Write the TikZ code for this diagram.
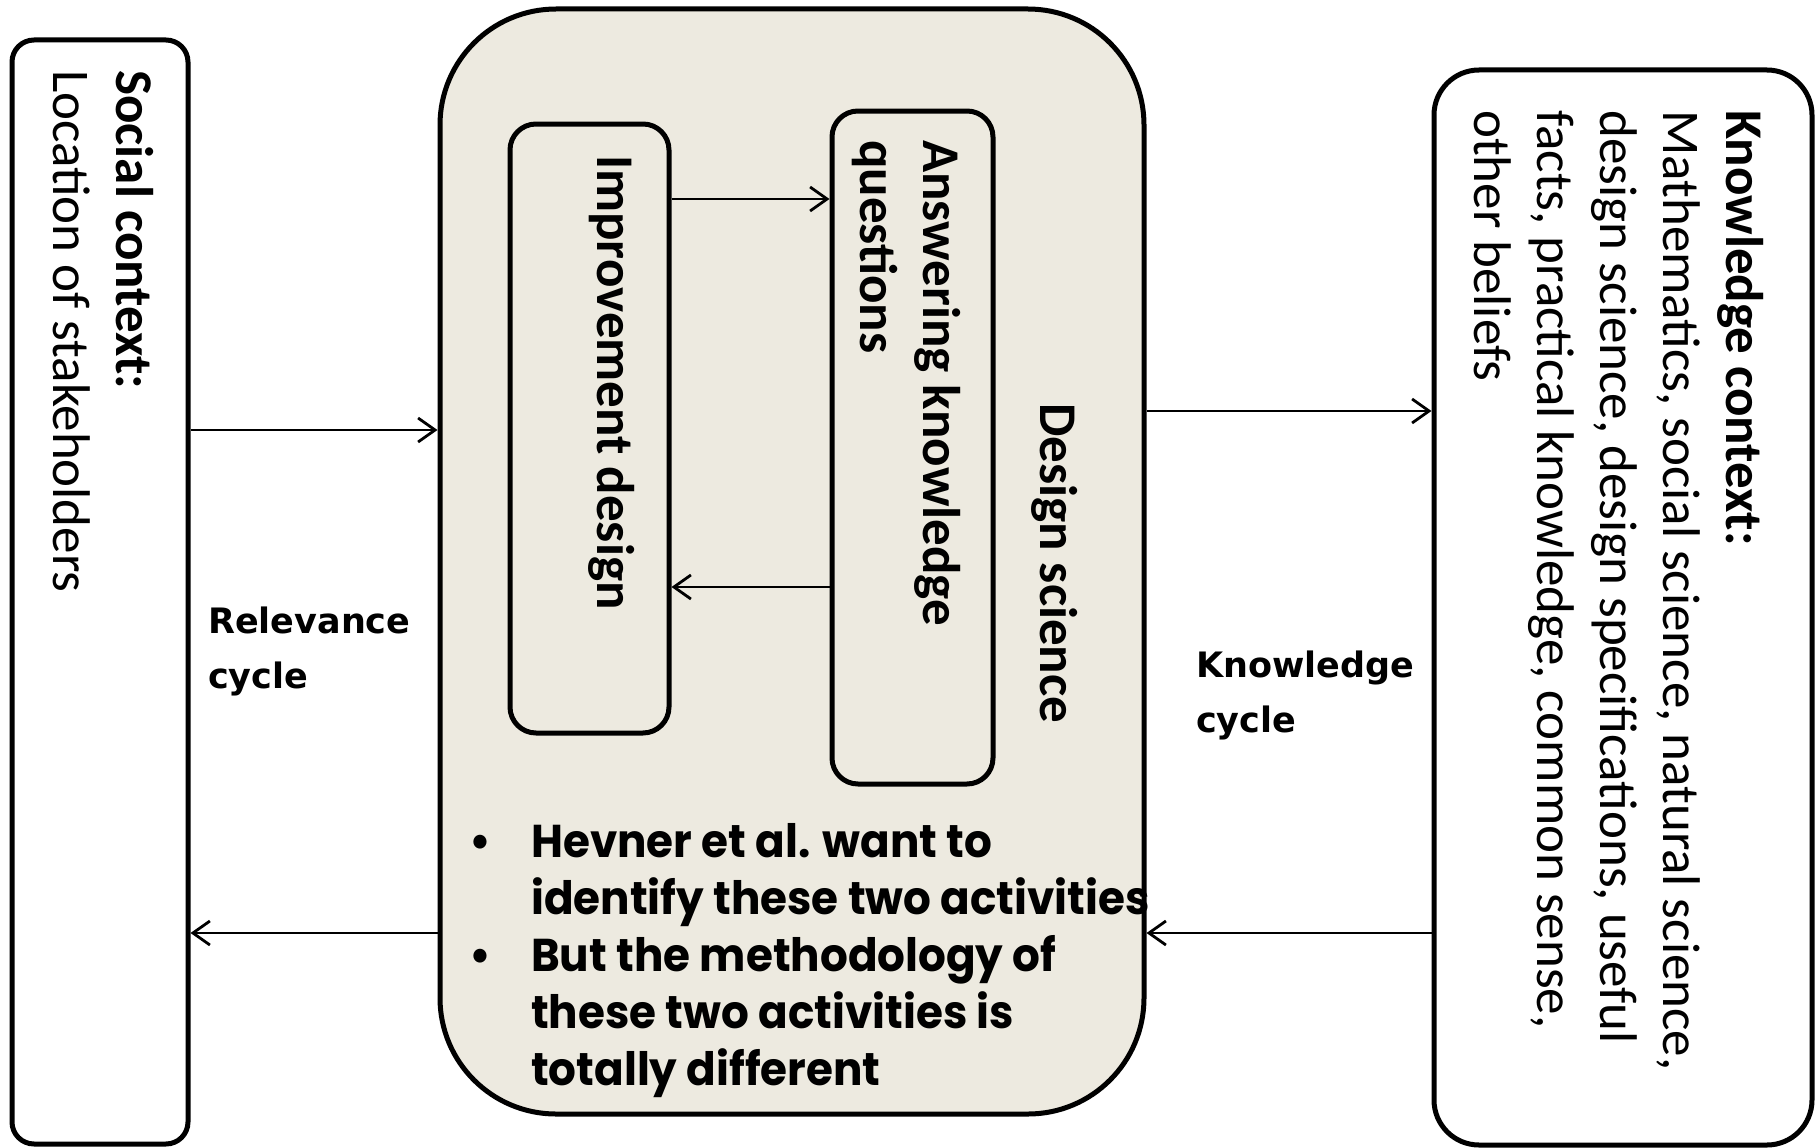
\documentclass[tikz,border=0pt]{standalone}
\usepackage{fontspec}
\setmainfont{Carlito}
\newfontfamily\cyclefont{DejaVu Sans}
\newfontfamily\bulletfont{Poppins}[FakeStretch=0.95]
\usetikzlibrary{arrows.meta}
\definecolor{dsfill}{RGB}{237,234,224}

\tikzset{
    box/.style={draw, line width=5pt, rounded corners=#1, inner sep=0pt},
    box/.default=22pt,
    lbl/.style={rotate=-90, anchor=north west, inner sep=0pt, align=left, font=\fontsize{53}{63}\selectfont},
    cyclelbl/.style={anchor=north west, inner sep=0pt, align=left, font=\cyclefont\bfseries\fontsize{35}{55}\selectfont},
    flow/.style={line width=2.8pt, -{Straight Barb[length=17pt,width=24pt,line width=2.8pt]}},
}

\begin{document}
\begin{tikzpicture}[x=1pt, y=-1pt]
    \path[use as bounding box] (0,0) rectangle (1816,1148);

    \node[box=22pt, minimum width=176pt, minimum height=1104pt] (social) at (100,592) {};
    \node[box=116pt, fill=dsfill, minimum width=704pt, minimum height=1105pt] (ds) at (792,561.5) {};
    \node[box=26pt, minimum width=159pt, minimum height=609pt] (imp) at (589.5,428.5) {};
    \node[box=26pt, minimum width=161pt, minimum height=673pt] (ans) at (912.5,447.5) {};
    \node[box=45pt, minimum width=378pt, minimum height=1075pt] (know) at (1623,607.5) {};

    \node[lbl] (soclbl) at (154,70) {\textbf{Social context:}\\Location of stakeholders};
    \node[lbl, font=\fontsize{53}{63}\selectfont\bfseries] (implbl) at (635,155) {Improvement design};
    \node[lbl, font=\fontsize{53}{63}\selectfont\bfseries] (anslbl) at (961,140) {Answering knowledge\\questions};
    \node[lbl, font=\fontsize{53}{63}\selectfont\bfseries] (dslbl) at (1078,403) {Design science};
    \node[lbl] (knowlbl) at (1764,110) {\textbf{Knowledge context:}\\Mathematics, social science, natural science,\\design science, design specifications, useful\\facts, practical knowledge, common sense,\\other beliefs};

    \node[cyclelbl] (relcyc) at (208,607) {Relevance\\cycle};
    \node[cyclelbl] (knowcyc) at (1196,651) {Knowledge\\cycle};

    \node[anchor=base west, inner sep=0pt, font=\bulletfont\bfseries\fontsize{46}{57}\selectfont] (notes) at (469,857) {%
        \begin{tabular}[t]{@{}p{62pt}@{}l@{}}
            \textbullet & Hevner et al. want to\\
                        & identify these two activities\\
            \textbullet & But the methodology of\\
                        & these two activities is\\
                        & totally different
        \end{tabular}};

    \draw[flow] (social.east |- 0,430) -- (ds.west |- 0,430);
    \draw[flow] (ds.west |- 0,933) -- (social.east |- 0,933);
    \draw[flow] (ds.east |- 0,411) -- (know.west |- 0,411);
    \draw[flow] (know.west |- 0,933) -- (ds.east |- 0,933);
    \draw[flow] (imp.east |- 0,199) -- (ans.west |- 0,199);
    \draw[flow] (ans.west |- 0,587) -- (imp.east |- 0,587);
\end{tikzpicture}
\end{document}
